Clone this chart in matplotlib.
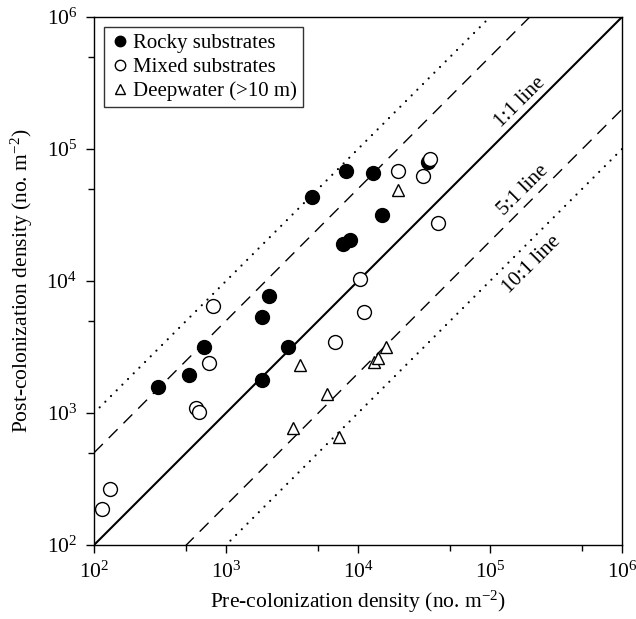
import numpy as np
import matplotlib
matplotlib.use("Agg")
import matplotlib.pyplot as plt
from matplotlib.ticker import LogLocator, NullFormatter

plt.rcParams['font.family'] = ['Liberation Serif', 'DejaVu Serif']
plt.rcParams['mathtext.fontset'] = 'custom'
plt.rcParams['mathtext.rm'] = 'Liberation Serif'
plt.rcParams['mathtext.it'] = 'Liberation Serif:italic'

# Rocky substrates (filled circles)
rocky_pre = [305, 525, 681, 1874, 1874, 2119, 2952, 4487, 8110, 13000, 7690, 8690, 15200, 33900]
rocky_post = [1575, 1940, 3162, 1778, 5335, 7690, 3162, 43250, 68070, 65770, 19050, 20460, 31620, 79800]

# Mixed substrates (open circles)
mixed_pre = [115, 132, 593, 624, 743, 798, 6700, 10350, 11100, 20100, 31000, 35100, 40400]
mixed_post = [187, 266, 1090, 1018, 2394, 6470, 3450, 10350, 5820, 68070, 62400, 83950, 27500]

# Deepwater (>10 m) (open triangles)
deep_pre = [3220, 3640, 5820, 7180, 13200, 14180, 16300, 20100]
deep_post = [769, 2310, 1393, 658, 2430, 2610, 3160, 48900]

# reference lines: post = pre * factor
ratio_factors = [10, 5, 1, 1 / 5, 1 / 10]
ratio_styles = ['dotted', 'dashed', 'solid', 'dashed', 'dotted']
line_labels = ['1:1 line', '5:1 line', '10:1 line']
label_x = [1.69e5, 1.78e5, 2.08e5]
label_y = [2.27e5, 4.89e4, 1.32e4]

fig = plt.figure(figsize=(6.36, 6.19), dpi=100)
ax = fig.add_axes([0.1478, 0.1195, 0.8302, 0.853])

xx = np.array([1e2, 1e6])
for f, st in zip(ratio_factors, ratio_styles):
    if st == 'solid':
        ax.plot(xx, xx * f, color='black', lw=1.5, zorder=1)
    elif st == 'dashed':
        ax.plot(xx, xx * f, color='black', lw=1.0, dashes=(9, 6), zorder=1)
    else:
        ax.plot(xx, xx * f, color='black', lw=1.6, dashes=(0.01, 3.6),
                dash_capstyle='round', zorder=1)

ax.plot(rocky_pre, rocky_post, 'o', color='black', ms=10, ls='none',
        label='Rocky substrates', zorder=3)
ax.plot(mixed_pre, mixed_post, 'o', mfc='white', mec='black', mew=1.0, ms=10,
        ls='none', label='Mixed substrates', zorder=4)
ax.plot(deep_pre, deep_post, '^', mfc='white', mec='black', mew=1.0, ms=9,
        ls='none', label='Deepwater (>10 m)', zorder=4)

for t, lx, ly in zip(line_labels, label_x, label_y):
    ax.text(lx, ly, t, rotation=45, ha='center', va='center', fontsize=15)

ax.set_xscale('log')
ax.set_yscale('log')
ax.set_xlim(1e2, 1e6)
ax.set_ylim(1e2, 1e6)

for axis in (ax.xaxis, ax.yaxis):
    axis.set_major_locator(LogLocator(base=10, numticks=10))
    axis.set_minor_locator(LogLocator(base=10, subs=[5.0], numticks=10))
    axis.set_minor_formatter(NullFormatter())

ax.tick_params(which='both', direction='out', top=False, right=False, labelsize=15.5)
ax.tick_params(which='major', length=6, width=1, pad=6)
ax.tick_params(which='minor', length=4, width=1)
for s in ax.spines.values():
    s.set_linewidth(1.0)

ax.set_xlabel('Pre-colonization density (no. m$^{-2}$)', fontsize=15.5, labelpad=4)
ax.set_ylabel('Post-colonization density (no. m$^{-2}$)', fontsize=15.5, labelpad=8)

leg = ax.legend(loc='upper left', fontsize=15, frameon=True, fancybox=False,
                edgecolor='black', borderaxespad=0.5, handletextpad=0.15,
                handlelength=0.9, markerscale=0.75, borderpad=0.3, labelspacing=0.2)
leg.get_frame().set_linewidth(1.0)

fig.savefig('out.png', dpi=100)
